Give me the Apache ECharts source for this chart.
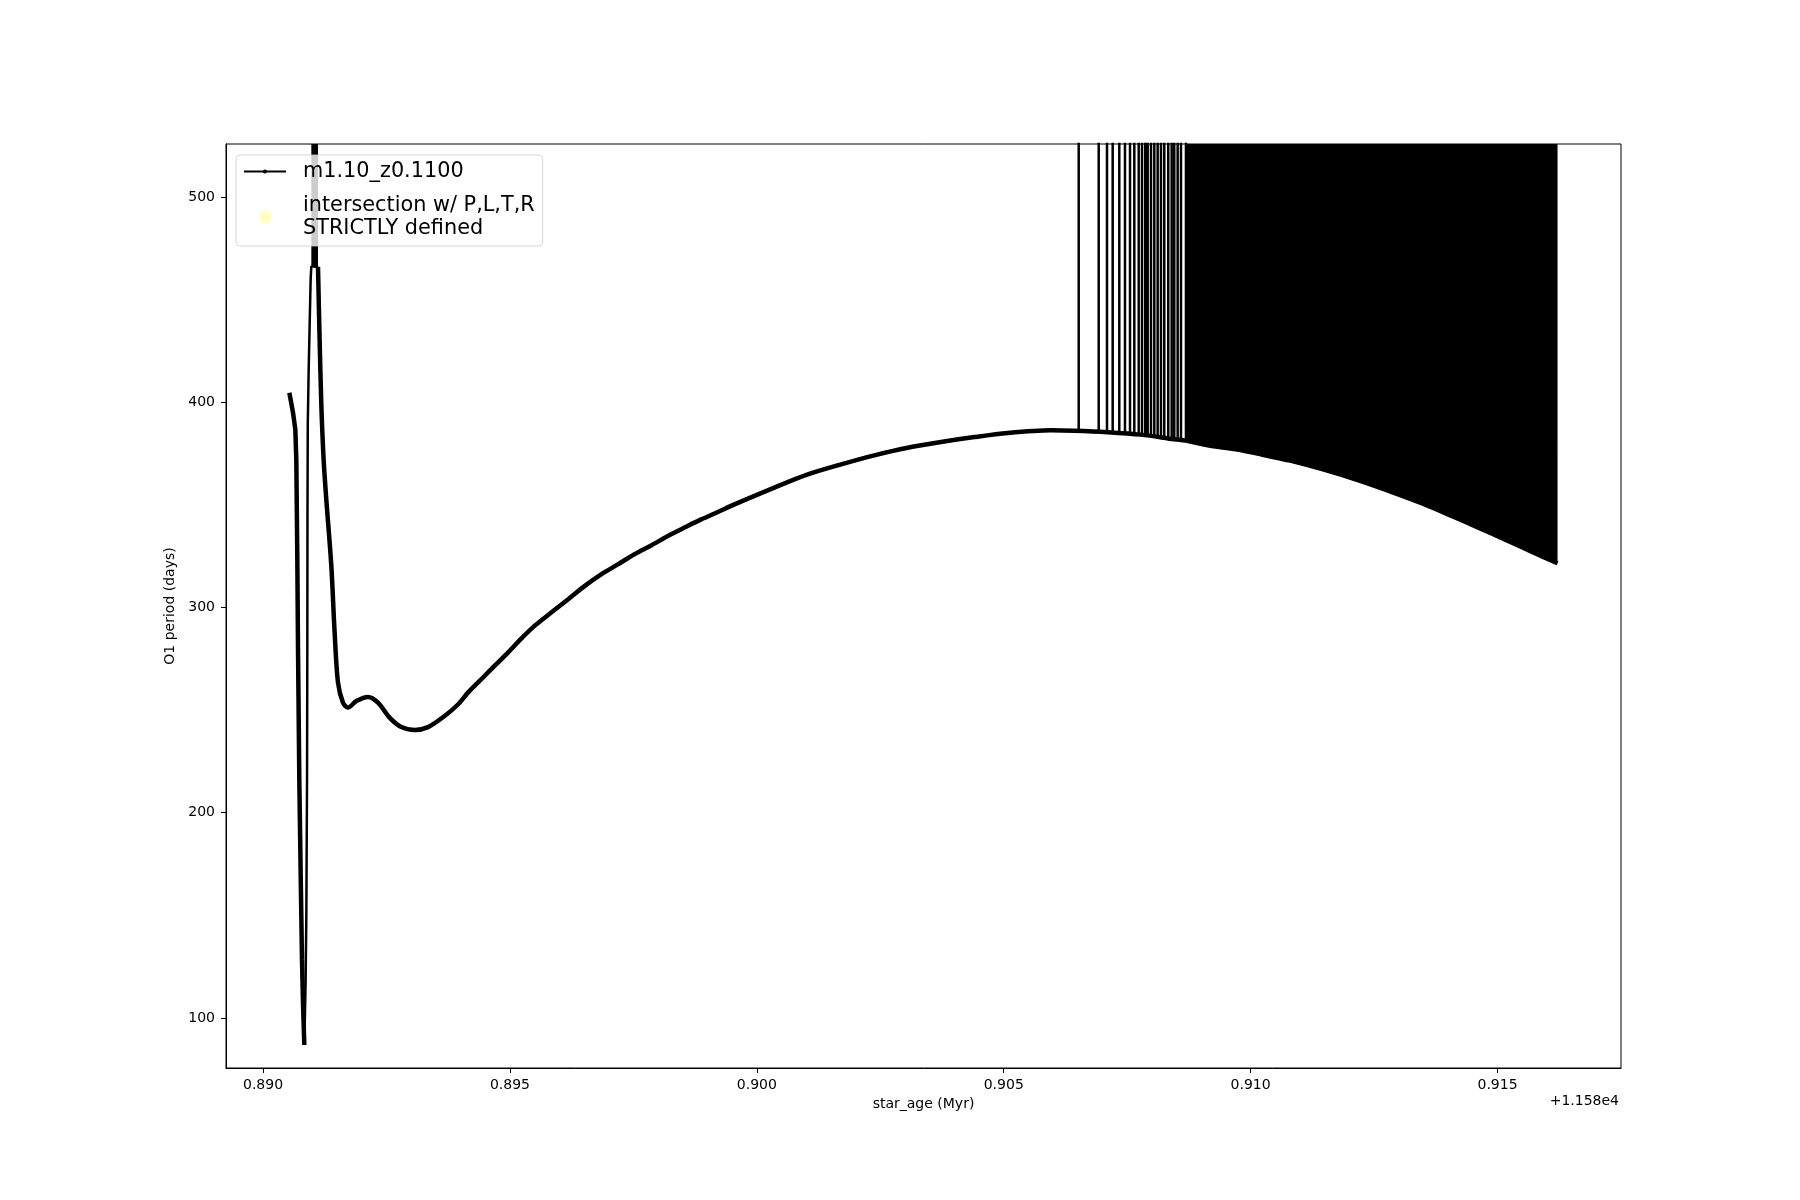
<!DOCTYPE html>
<html><head><meta charset="utf-8">
<script src="https://cdn.jsdelivr.net/npm/echarts@6/dist/echarts.min.js"></script>
<style>html,body{margin:0;padding:0;background:#fff}#c{width:1800px;height:1200px}</style>
</head><body><div id="c"></div>
<script>
// star_age values are stored relative to the axis offset (+1.158e4 Myr)
const AGE_OFFSET = 11580;
const OFF_SCALE = 2000;            // period far above the plotted range (trace leaves the frame)
const seriesName = 'm1.10_z0.1100';
const markerName = 'intersection w/ P,L,T,R\nSTRICTLY defined';

const xTicks = [0.890, 0.895, 0.900, 0.905, 0.910, 0.915];
const yTicks = [100, 200, 300, 400, 500];
const xRange = [0.88925, 0.91750];
const yRange = [75.6, 525.8];

// first descent to the deep minimum
const descentAge    = [0.890533, 0.890607, 0.890654, 0.890674, 0.890694, 0.890708, 0.890735, 0.890761, 0.890789, 0.890810, 0.890836];
const descentPeriod = [404.6, 394.9, 386.7, 371.9, 324.1, 280.6, 215.4, 171.9, 128.4, 106.6, 86.8];

// fast (sparsely sampled) rise
const riseAge    = [0.890836, 0.890842, 0.890862, 0.890877, 0.890891, 0.890897, 0.890900, 0.890906, 0.890923, 0.890964, 0.890978];
const risePeriod = [86.8, 93.6, 117.5, 150.2, 215.4, 280.6, 345.9, 389.4, 414.4, 459.8, 466.3];

// densely oscillating block that leaves the frame
const blockAge    = [0.890978, 0.891113];
const blockPeriod = [466.3, 466.0];

// main evolution track
const mainAge = [0.891113, 0.891146, 0.891180, 0.891227, 0.891281, 0.891383, 0.891450, 0.891518, 0.891619, 0.891721,
  0.891889, 0.892126, 0.892328, 0.892563, 0.892800, 0.893069, 0.893340, 0.893676, 0.893947, 0.894150,
  0.894486, 0.894688, 0.894960, 0.895229, 0.895498, 0.895836, 0.896174, 0.896510, 0.896848, 0.897186,
  0.897522, 0.897860, 0.898198, 0.898535, 0.898873, 0.899211, 0.899547, 0.900356, 0.901032, 0.901707,
  0.902381, 0.903057, 0.903731, 0.904406, 0.905081, 0.905957, 0.906429, 0.907105, 0.907780, 0.908455, 0.908711];
const mainPeriod = [466.0, 430.6, 399.0, 372.0, 352.7, 320.2, 287.7, 263.4, 253.6, 251.2,
  254.4, 256.4, 253.6, 246.3, 241.7, 240.3, 241.7, 247.1, 252.7, 258.5,
  266.6, 271.5, 278.0, 284.8, 291.0, 297.5, 303.9, 310.4, 316.1, 321.0,
  325.9, 330.2, 334.8, 338.9, 342.9, 346.5, 350.2, 358.4, 364.8, 369.7,
  374.1, 377.8, 380.6, 383.0, 385.0, 386.3, 386.1, 385.4, 384.2, 381.9, 381.2];

// isolated excursions off the top of the frame
const spikeAge  = [0.906518, 0.906923, 0.907091, 0.907206, 0.907340, 0.907455, 0.907557, 0.907644, 0.907733, 0.907800,
  0.907866, 0.907915, 0.907982, 0.908049, 0.908117, 0.908184, 0.908251, 0.908332, 0.908401, 0.908453,
  0.908522, 0.908589, 0.908690];
const spikeBase = [386.1, 385.8, 385.5, 385.3, 385.1, 384.9, 384.6, 384.4, 384.3, 384.2,
  384.0, 383.9, 383.7, 383.5, 383.3, 383.1, 382.9, 382.6, 382.3, 382.0,
  381.8, 381.6, 381.3];

// continuous excursions: lower envelope of the dense region
const denseAge  = [0.908711, 0.909130, 0.909700, 0.910209, 0.910800, 0.911500, 0.912200, 0.913000, 0.913500, 0.914057, 0.914600, 0.915134, 0.915700, 0.916215];
const denseBase = [381.2, 379.0, 377.0, 374.6, 371.5, 367.0, 361.8, 355.0, 350.4, 344.7, 339.0, 333.3, 327.0, 321.5];

// intersection points (none inside the frame)
const intersectionAge = [];
const intersectionPeriod = [];

const FONT = 'DejaVu Sans';
function pairs(xs, ys) { return xs.map((x, i) => [x, ys[i]]); }
const spikeData = [];
spikeAge.forEach((x, i) => { spikeData.push([x, spikeBase[i]], [x, OFF_SCALE], [x, spikeBase[i]]); });

const lineBase = { type: 'line', name: seriesName, showSymbol: false, symbol: 'circle', symbolSize: 4,
  color: '#000', clip: true, silent: true, animation: false };

const chart = echarts.init(document.getElementById('c'), null, { renderer: 'canvas' });
chart.setOption({
  backgroundColor: '#fff',
  animation: false,
  grid: { left: 226, top: 144, width: 1395, height: 924, show: true, borderColor: '#000', borderWidth: 1, backgroundColor: 'transparent' },
  xAxis: {
    type: 'value', min: xRange[0], max: xRange[1],
    name: 'star_age (Myr)', nameLocation: 'middle', nameGap: 28,
    nameTextStyle: { fontSize: 14, fontFamily: FONT, color: '#000' },
    axisLine: { show: true, onZero: false, lineStyle: { color: '#000', width: 1 } },
    axisTick: { show: true, length: 5, customValues: xTicks, lineStyle: { color: '#000', width: 1 } },
    axisLabel: { customValues: xTicks, formatter: v => v.toFixed(3), margin: 10, fontSize: 14, fontFamily: FONT, color: '#000' },
    splitLine: { show: false }
  },
  yAxis: {
    type: 'value', min: yRange[0], max: yRange[1],
    name: 'O1 period (days)', nameLocation: 'middle', nameGap: 43, nameRotate: 90,
    nameTextStyle: { fontSize: 14, fontFamily: FONT, color: '#000' },
    axisLine: { show: true, onZero: false, lineStyle: { color: '#000', width: 1 } },
    axisTick: { show: true, length: 5, customValues: yTicks, lineStyle: { color: '#000', width: 1 } },
    axisLabel: { customValues: yTicks, margin: 11, fontSize: 14, fontFamily: FONT, color: '#000' },
    splitLine: { show: false }
  },
  legend: [
    { data: [seriesName], left: 236, top: 155, orient: 'vertical', selectedMode: false,
      padding: [5, 79, 63, 7], itemWidth: 42, itemHeight: 5,
      backgroundColor: 'rgba(255,255,255,0.8)', borderColor: 'rgba(204,204,204,0.8)', borderWidth: 1, borderRadius: 4,
      textStyle: { fontSize: 20.8, fontFamily: FONT, color: '#000', lineHeight: 23, padding: [0, 0, 0, 12] },
      lineStyle: { width: 2, color: '#000' }, itemStyle: { color: '#000' } },
    { data: [markerName], left: 236, top: 194, orient: 'vertical', selectedMode: false,
      padding: [0, 0, 0, 23], itemWidth: 39, itemHeight: 13,
      textStyle: { fontSize: 20.8, fontFamily: FONT, color: '#000', lineHeight: 23, padding: [0, 0, 0, 13] } }
  ],
  graphic: [
    { type: 'text', right: 181, top: 1094, silent: true,
      style: { text: '+' + (AGE_OFFSET / 1e4) + 'e4', font: '14px "DejaVu Sans"', fill: '#000' } }
  ],
  series: [
    Object.assign({}, lineBase, { data: pairs(descentAge, descentPeriod), lineStyle: { width: 4.5, color: '#000' } }),
    Object.assign({}, lineBase, { data: pairs(riseAge, risePeriod), lineStyle: { width: 2.5, color: '#000' } }),
    Object.assign({}, lineBase, { data: pairs(blockAge, blockPeriod), lineStyle: { width: 3, color: '#000' },
      areaStyle: { origin: 'end', color: '#000', opacity: 1 } }),
    Object.assign({}, lineBase, { data: pairs(mainAge, mainPeriod), smooth: 0.3, lineStyle: { width: 4.5, color: '#000' } }),
    Object.assign({}, lineBase, { data: spikeData, lineStyle: { width: 2.5, color: '#000' } }),
    Object.assign({}, lineBase, { data: pairs(denseAge, denseBase), smooth: 0.3, lineStyle: { width: 4.5, color: '#000' },
      areaStyle: { origin: 'end', color: '#000', opacity: 1 } }),
    { type: 'scatter', name: markerName, data: pairs(intersectionAge, intersectionPeriod),
      symbol: 'circle', symbolSize: 13, itemStyle: { color: '#ffffb3' }, silent: true, animation: false }
  ]
});
</script></body></html>
